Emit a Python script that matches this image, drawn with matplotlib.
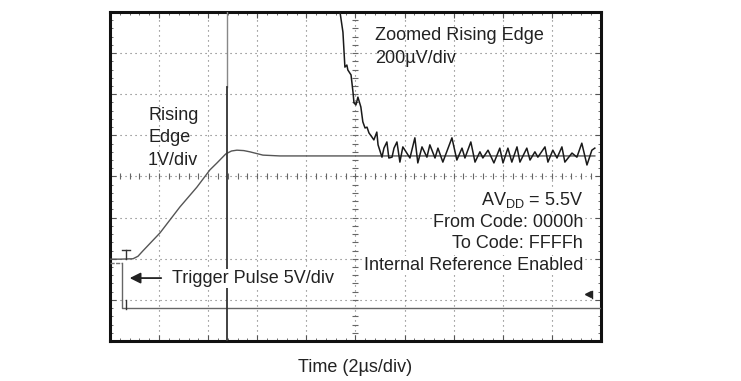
"""
Oscilloscope capture: DAC full-scale rising edge (0000h -> FFFFh),
normal 1V/div view plus a zoomed 200uV/div view of the settling tail.
Values read off the scope screen: x in us (2 us/div), y in divisions.
"""
import numpy as np
import matplotlib
matplotlib.use("Agg")
import matplotlib.pyplot as plt
from matplotlib.ticker import MultipleLocator

plt.rcParams["font.family"] = ["Liberation Sans", "DejaVu Sans"]
plt.rcParams["mathtext.fontset"] = "custom"
plt.rcParams["mathtext.rm"] = "Liberation Sans"

# --- rising edge, 1V/div ---------------------------------------------------
edge_t = [0.0, 0.41, 0.94, 1.14, 1.34, 2.04, 2.85, 3.54, 4.07, 4.36, 4.72,
          4.95, 5.17, 5.45, 5.70, 6.23, 6.92, 19.75]
edge_v = [-2.01, -2.01, -2.00, -1.94, -1.81, -1.37, -0.74, -0.26, 0.16, 0.33,
          0.55, 0.62, 0.64, 0.63, 0.60, 0.52, 0.50, 0.50]

# --- zoomed rising edge, 200uV/div -----------------------------------------
zoom_t = [9.25, 9.37, 9.49, 9.57, 9.65, 9.69, 9.82, 9.90, 9.94, 10.02,
          10.10, 10.22, 10.30, 10.39, 10.47, 10.55, 10.67, 10.75, 10.87, 10.92,
          11.08, 11.16, 11.28, 11.36, 11.49, 11.57, 11.69, 11.81, 11.93, 12.22,
          12.42, 12.54, 12.71, 12.91, 13.03, 13.24, 13.36, 13.56, 13.93, 14.13,
          14.34, 14.46, 14.70, 14.87, 15.07, 15.19, 15.40, 15.64, 15.88, 16.01,
          16.21, 16.37, 16.58, 16.70, 16.98, 17.11, 17.31, 17.43, 17.72, 17.84,
          18.04, 18.21, 18.41, 18.53, 18.82, 19.02, 19.22, 19.43, 19.63, 19.75]
zoom_v = [4.30, 4.00, 3.51, 2.66, 2.71, 2.59, 2.47, 2.05, 1.79, 1.74,
          1.93, 1.69, 1.33, 1.18, 1.20, 1.06, 0.96, 0.89, 1.08, 0.77,
          0.47, 0.69, 0.84, 0.45, 0.47, 0.69, 0.84, 0.35, 0.72, 0.45,
          0.94, 0.33, 0.72, 0.47, 0.77, 0.45, 0.69, 0.35, 0.94, 0.40,
          0.69, 0.45, 0.84, 0.35, 0.60, 0.45, 0.64, 0.33, 0.69, 0.33,
          0.69, 0.35, 0.72, 0.35, 0.69, 0.40, 0.60, 0.47, 0.72, 0.35,
          0.64, 0.45, 0.72, 0.35, 0.57, 0.47, 0.81, 0.28, 0.64, 0.69]

# --- trigger pulse, 5V/div -------------------------------------------------
trig_t = [0.0, 0.49, 0.49, 20.0]
trig_v = [-2.10, -2.10, -3.20, -3.20]

glitch_t = 4.77          # vertical spike through the whole screen
glitch_split = 2.18      # thin grey above, dark below

fig = plt.figure(figsize=(7.41, 3.81), dpi=100)
ax = fig.add_axes([0.1484, 0.105, 0.6626, 0.8635])
ax.set_xlim(0, 20)
ax.set_ylim(-4, 4)

# scope graticule
for x in np.arange(2, 20, 2):
    ax.axvline(x, color="#6f6f6f", lw=0.8, ls=(0, (1, 3.5)), zorder=1)
for y in np.arange(-3, 4, 1):
    ax.axhline(y, color="#6f6f6f", lw=0.8, ls=(0, (1, 3.5)), zorder=1)
ax.plot(np.full(39, 10.0), np.arange(-3.8, 4, 0.2), ls="none", marker="_",
        ms=5, mew=0.8, color="#666666", zorder=1)
ax.plot(np.arange(0.4, 20, 0.4), np.zeros(49), ls="none", marker="|",
        ms=5, mew=0.8, color="#666666", zorder=1)

ax.xaxis.set_major_locator(MultipleLocator(2))
ax.xaxis.set_minor_locator(MultipleLocator(0.4))
ax.yaxis.set_major_locator(MultipleLocator(1))
ax.yaxis.set_minor_locator(MultipleLocator(0.2))
ax.tick_params(which="both", direction="in", top=True, right=True,
               labelbottom=False, labelleft=False, color="#555555")
ax.tick_params(which="major", length=4, width=0.8)
ax.tick_params(which="minor", length=2.5, width=0.6)
for s in ax.spines.values():
    s.set_linewidth(2.2)
    s.set_color("#111111")

# traces
ax.plot(trig_t[:2], trig_v[:2], color="#777777", lw=1.0, ls=(0, (3, 1)), zorder=3)
ax.plot(trig_t[1:], trig_v[1:], color="#666666", lw=1.0, zorder=3)
ax.plot(edge_t, edge_v, color="#555555", lw=1.0, zorder=3)
ax.plot(zoom_t, zoom_v, color="#1a1a1a", lw=1.1, solid_joinstyle="round", zorder=4)
ax.plot([glitch_t, glitch_t], [glitch_split, 4], color="#888888", lw=1.0, zorder=3)
ax.plot([glitch_t, glitch_t], [-4, glitch_split], color="#333333", lw=1.3, zorder=3)

# trigger / level markers
ax.plot([0.65, 0.65], [-1.78, -2.01], color="#333333", lw=1.0, zorder=4)
ax.plot([0.47, 0.83], [-1.78, -1.78], color="#333333", lw=1.0, zorder=4)
ax.plot([0.65, 0.65], [-3.00, -3.22], color="#333333", lw=1.0, zorder=4)
ax.plot([19.48], [-2.86], marker="<", ms=5, color="#222222", zorder=4)
ax.plot([19.62, 19.62], [-2.78, -2.95], color="#222222", lw=1.0, zorder=4)

# annotations
fs = 13
ax.text(1.55, 1.37, "Rising", fontsize=fs, color="#222222", va="baseline")
ax.text(1.55, 0.84, "Edge", fontsize=fs, color="#222222", va="baseline")
ax.text(1.55, 0.28, "1V/div", fontsize=fs, color="#222222", va="baseline")
ax.text(10.79, 3.32, "Zoomed Rising Edge", fontsize=fs, color="#222222", va="baseline")
ax.text(10.79, 2.76, "200\u00b5V/div", fontsize=fs, color="#222222", va="baseline")
right_lines = ["AV$_{\\mathrm{DD}}$ = 5.5V", "From Code: 0000h",
               "To Code: FFFFh", "Internal Reference Enabled"]
for txt, yb in zip(right_lines, [-0.69, -1.23, -1.74, -2.27]):
    ax.text(19.27, yb, txt, fontsize=fs, color="#222222", ha="right",
            va="baseline", bbox=dict(fc="white", ec="none", pad=0.5))
ax.text(2.53, -2.59, "Trigger Pulse 5V/div", fontsize=fs, color="#222222",
        va="baseline", bbox=dict(fc="white", ec="none", pad=0.5))
ax.annotate("", xy=(0.69, -2.47), xytext=(2.2, -2.47),
            arrowprops=dict(arrowstyle="-|>", color="#222222", lw=1.3,
                            mutation_scale=16))

fig.text(0.479, 0.024, "Time (2\u00b5s/div)", fontsize=fs, color="#222222",
         ha="center", va="baseline")

fig.savefig("out.png", dpi=100)
